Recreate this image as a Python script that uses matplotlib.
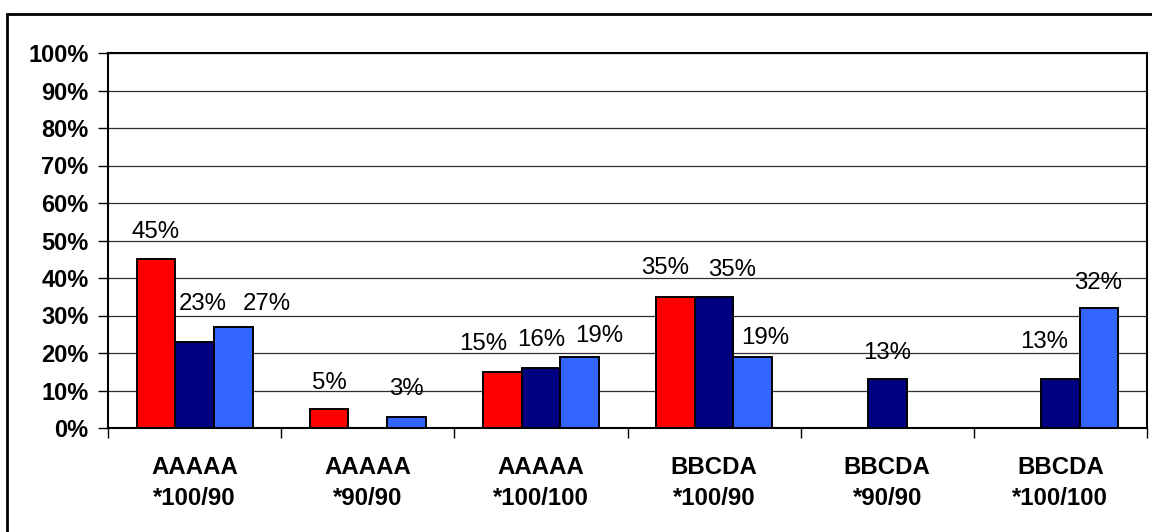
import matplotlib
matplotlib.use("Agg")
import matplotlib.pyplot as plt
import numpy as np
from matplotlib.lines import Line2D

plt.rcParams['font.family'] = ['Liberation Sans', 'DejaVu Sans']

categories = ["AAAAA\n*100/90", "AAAAA\n*90/90", "AAAAA\n*100/100",
              "BBCDA\n*100/90", "BBCDA\n*90/90", "BBCDA\n*100/100"]
series_red = [45, 5, 15, 35, 0, 0]
series_navy = [23, 0, 16, 35, 13, 13]
series_blue = [27, 3, 19, 19, 0, 32]
y_ticks = [0, 10, 20, 30, 40, 50, 60, 70, 80, 90, 100]

colors = ["#FF0000", "#000080", "#3366FF"]
series = [series_red, series_navy, series_blue]

# label placement tweaks (pixels): (dx, dy above bar top to text centre)
label_offsets = {
    (0, 0): (0, 27), (0, 1): (8, 38), (0, 2): (34, 23),
    (1, 0): (0, 26), (1, 2): (0, 28),
    (2, 0): (-19, 28), (2, 1): (0, 28), (2, 2): (20, 21),
    (3, 0): (-10, 29), (3, 1): (18, 27), (3, 2): (12, 19),
    (4, 1): (0, 26),
    (5, 1): (-16, 37), (5, 2): (-1, 25),
}

W, H = 1152, 532
fig = plt.figure(figsize=(W / 100, H / 100), dpi=100)
ax = fig.add_axes([108 / W, (H - 428) / H, (1147 - 108) / W, (428 - 53) / H])

x = np.arange(len(categories))
w = 0.223
for j, (vals, c) in enumerate(zip(series, colors)):
    for i, v in enumerate(vals):
        if v == 0:
            continue
        xc = x[i] + (j - 1) * w
        ax.bar(xc, v, width=w, color=c, edgecolor="black", linewidth=1.4, zorder=3)
        dx, dy = label_offsets.get((i, j), (0, 27))
        ax.annotate(f"{v}%", (xc, v), xytext=(dx, dy), textcoords="offset pixels",
                    ha="center", va="center", fontsize=17.3, color="black", zorder=4)

ax.set_xlim(-0.5, len(categories) - 0.5)
ax.set_ylim(0, 100)
ax.set_yticks(y_ticks)
ax.set_yticklabels([f"{t}%" for t in y_ticks], fontsize=17, fontweight="bold")
ax.set_xticks(x)
ax.set_xticklabels(categories, fontsize=17.3, fontweight="bold", linespacing=1.45)
ax.tick_params(axis="x", length=0, pad=20)
ax.set_xticks(np.arange(-0.5, len(categories)), minor=True)
ax.tick_params(axis="x", which="minor", length=7, width=1, direction="out")
ax.tick_params(axis="y", length=7, width=1, direction="out", pad=7)
ax.grid(axis="y", color="#303030", linewidth=0.9, zorder=0)
ax.set_axisbelow(True)
for s in ax.spines.values():
    s.set_linewidth(1.5)
    s.set_color("black")

# outer chart frame (top and left edges visible)
fig.add_artist(Line2D([7 / W, 7 / W, 1.01], [-0.01, 1 - 13.5 / H, 1 - 13.5 / H],
                      transform=fig.transFigure, color="black", linewidth=2.0,
                      solid_joinstyle="miter"))

fig.savefig("out.png", dpi=100)
